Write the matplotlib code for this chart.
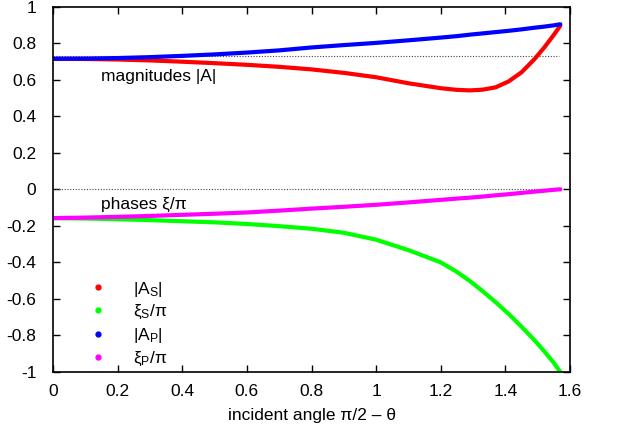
import matplotlib

matplotlib.use("Agg")
import matplotlib.pyplot as plt
from matplotlib.lines import Line2D
from matplotlib.ticker import FuncFormatter, MultipleLocator

plt.rcParams.update(
    {
        "font.family": ["Liberation Sans", "DejaVu Sans"],
        "font.size": 12.5,
        "mathtext.fontset": "custom",
        "mathtext.rm": "Liberation Sans",
        "mathtext.it": "Liberation Sans",
        "xtick.direction": "in",
        "ytick.direction": "in",
        "xtick.top": True,
        "ytick.right": True,
    }
)

# ---------------------------------------------------------------------------
# Data (incident angle vs magnitude / phase)
# ---------------------------------------------------------------------------
angle = [0.0, 0.1, 0.2, 0.3, 0.4, 0.5, 0.6, 0.7, 0.8, 0.9, 1.0, 1.1, 1.2,
         1.25, 1.29, 1.33, 1.37, 1.41, 1.45, 1.49, 1.52, 1.55, 1.57]

amp_s = [0.714, 0.713, 0.710, 0.705, 0.698, 0.690, 0.681, 0.670, 0.656,
         0.637, 0.613, 0.580, 0.553, 0.544, 0.541, 0.545, 0.558, 0.590,
         0.640, 0.712, 0.775, 0.845, 0.895]
phase_s = [-0.158, -0.160, -0.164, -0.169, -0.175, -0.181, -0.190, -0.202,
           -0.216, -0.238, -0.276, -0.333, -0.400, -0.452, -0.502, -0.558,
           -0.618, -0.682, -0.752, -0.826, -0.886, -0.950, -1.0]
amp_p = [0.714, 0.715, 0.718, 0.723, 0.730, 0.738, 0.748, 0.760, 0.776,
         0.789, 0.801, 0.815, 0.830, 0.838, 0.846, 0.853, 0.860, 0.867,
         0.875, 0.884, 0.890, 0.897, 0.903]
phase_p = [-0.158, -0.155, -0.151, -0.146, -0.140, -0.134, -0.127, -0.117,
           -0.106, -0.096, -0.085, -0.072, -0.058, -0.051, -0.046, -0.040,
           -0.033, -0.027, -0.020, -0.013, -0.008, -0.003, 0.0]

ref_levels = [0.727, 0.0]
ref_span = [0.0, 1.565]

series = [
    (amp_s, "#ff0000", "|A$_\\mathrm{S}$|"),
    (phase_s, "#00ff00", "ξ$_\\mathrm{S}$/π"),
    (amp_p, "#0000ff", "|A$_\\mathrm{P}$|"),
    (phase_p, "#ff00ff", "ξ$_\\mathrm{P}$/π"),
]

fig = plt.figure(figsize=(6.18, 4.32), dpi=100)
ax = fig.add_axes([0.0858, 0.1389, 0.8365, 0.846])

for level in ref_levels:
    ax.plot(ref_span, [level, level], color="#444444", linestyle=(0, (1, 1.5)),
            linewidth=0.8)

handles = []
for values, color, label in series:
    ax.plot(angle, values, color=color, linewidth=3.0, solid_capstyle="round")
    handles.append(Line2D([], [], color=color, marker="o", linestyle="none",
                          markersize=3.5, label=label))

ax.text(0.15, 0.615, "magnitudes |A|", va="center", ha="left")
ax.text(0.15, -0.085, "phases ξ/π", va="center", ha="left")

ax.legend(handles=handles, loc="upper left", bbox_to_anchor=(0.057, 0.272),
          frameon=False, handlelength=1.0, handletextpad=1.5,
          labelspacing=0.27, borderaxespad=0)

ax.set_xlim(0, 1.6)
ax.set_ylim(-1, 1)
ax.xaxis.set_major_locator(MultipleLocator(0.2))
ax.yaxis.set_major_locator(MultipleLocator(0.2))
fmt = FuncFormatter(lambda v, _: "%g" % round(v, 2))
ax.xaxis.set_major_formatter(fmt)
ax.yaxis.set_major_formatter(fmt)
ax.tick_params(length=5, width=1)
ax.tick_params(axis="y", pad=12)
ax.tick_params(axis="x", pad=9)
for spine in ax.spines.values():
    spine.set_linewidth(1.2)

ax.set_xlabel("incident angle π/2 – θ", labelpad=6)

fig.savefig("out.png", dpi=100)
